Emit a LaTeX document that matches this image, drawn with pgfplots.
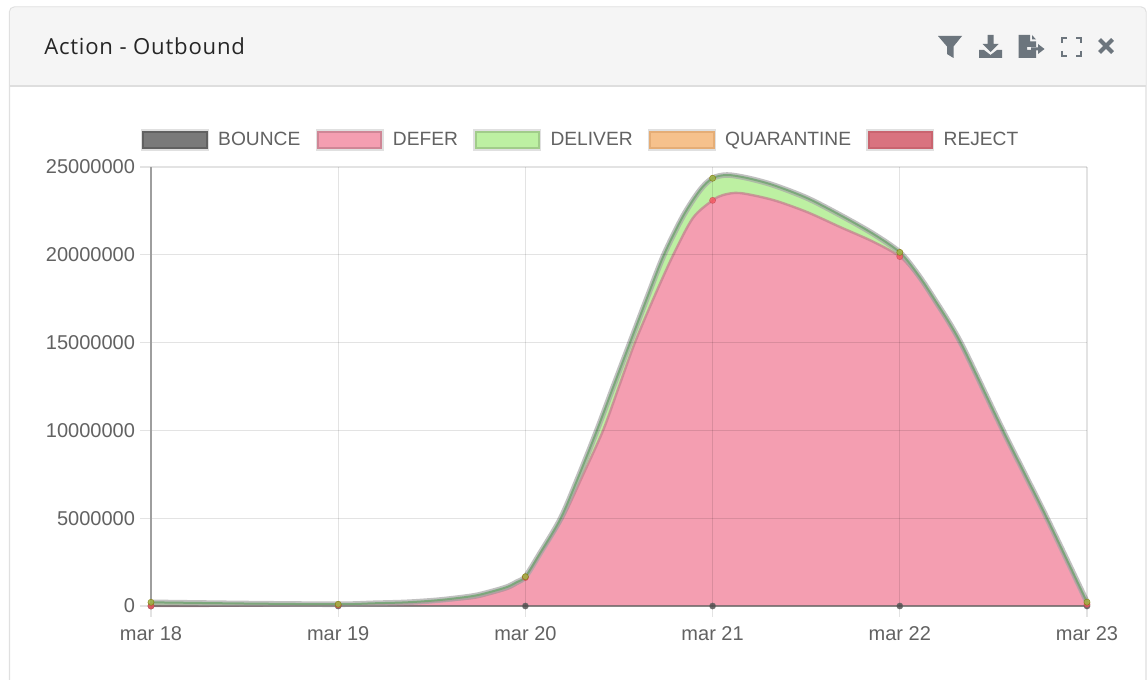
\documentclass[border=0pt]{standalone}
\usepackage{pgfplots}
\usepackage{fontspec}
\pgfplotsset{compat=1.18}
\setmainfont{Liberation Sans}
\newfontfamily\titlefont[LetterSpace=3.5]{Open Sans}
\definecolor{txt}{HTML}{626262}
\definecolor{icon}{HTML}{6C757D}
\definecolor{pinkf}{HTML}{F49EB1}
\definecolor{greenf}{HTML}{BDF0A2}
\definecolor{quarf}{HTML}{F6C18C}
\definecolor{quard}{HTML}{E5AD76}
\definecolor{rejf}{HTML}{D9737F}
\definecolor{rejd}{HTML}{C9646F}
% values at the six dates (stacked totals)
\pgfplotstableread{
x bounce defer top
0 0 0 210000
1 0 50000 100000
2 0 1620000 1670000
3 0 23100000 24360000
4 0 19900000 20140000
5 0 100000 220000
}\daily
% outline of the top of the stack
\pgfplotstableread{
x y
0 210000
0.502 142000
1 100000
1.186 153800
1.368 210700
1.544 341700
1.720 569500
1.811 797000
1.902 1082000
1.955 1367000
2 1670000
2.078 3000000
2.189 5000000
2.285 7400000
2.382 10000000
2.470 12500000
2.559 15000000
2.650 17550000
2.740 20000000
2.842 22200000
2.933 23690000
3 24360000
3.077 24545000
3.184 24374000
3.323 23975000
3.504 23235000
3.681 22265000
3.857 21200000
4 20140000
4.090 18980000
4.177 17600000
4.325 15000000
4.551 10000000
4.786 5000000
5 220000
}\topline
% outline of DEFER
\pgfplotstableread{
x y
0 0
1 50000
1.368 160000
1.544 285000
1.720 455000
1.811 683000
1.902 968000
1.955 1253000
2 1620000
2.078 2950000
2.199 5000000
2.307 7450000
2.415 10000000
2.500 12500000
2.585 15000000
2.690 17650000
2.790 20000000
2.895 22100000
3 23100000
3.056 23405000
3.146 23519000
3.323 23121000
3.504 22437000
3.681 21583000
3.857 20750000
4 19900000
4.090 18850000
4.177 17480000
4.325 14880000
4.551 9900000
4.786 4950000
5 100000
}\deferline
\newcommand{\swatch}[2]{\draw[black!12,line width=3.4pt] (0pt,-6.2pt) rectangle (47.5pt,6.2pt);
  \draw[fill=#1,draw=#2,line width=1.4pt] (0pt,-6.2pt) rectangle (47.5pt,6.2pt);}
\begin{document}
\begin{tikzpicture}[x=0.75pt,y=0.75pt]
\path[use as bounding box] (0,0) rectangle (1148,679);
\fill[white] (0,0) rectangle (1148,679);
% card
\draw[black!12,line width=1pt,fill=white] (9.5,-5) -- (9.5,667) arc[start angle=180,end angle=90,radius=5] -- (1141,672) arc[start angle=90,end angle=0,radius=5] -- (1146,-5);
\fill[black!4] (10,593) -- (10,667) arc[start angle=180,end angle=90,radius=4.5] -- (1141,671.5) arc[start angle=90,end angle=0,radius=4.5] -- (1145.5,593) -- cycle;
\draw[black!13,line width=1pt] (10,593) -- (1146,593);
\node[anchor=west,inner sep=0pt,text=black!85] at (44,633) {\titlefont\fontsize{16.6pt}{19pt}\selectfont Action - Outbound};
% icons
\begin{scope}[shift={(0,679)},yscale=-1,fill=icon]
\fill (938,36) -- (962,36) -- (953.5,46.5) -- (953.5,58) -- (947,54) -- (947,46.5) -- cycle;
\fill (987.5,35) -- (993.5,35) -- (993.5,44) -- (998.5,44) -- (990.5,52) -- (982.5,44) -- (987.5,44) -- cycle;
\fill (979,50) -- (984,50) -- (990.5,55) -- (997,50) -- (1002,50) -- (1002,58) -- (979,58) -- cycle;
\fill (1018.5,35) -- (1030,35) -- (1030,41.5) -- (1036,41.5) -- (1036,47) -- (1027,47) -- (1027,50) -- (1036,50) -- (1036,58) -- (1018.5,58) -- cycle;
\fill (1032,35) -- (1036,39.5) -- (1032,39.5) -- cycle;
\fill (1031,47.5) -- (1038,47.5) -- (1038,44) -- (1044.5,49) -- (1038,54) -- (1038,50.5) -- (1031,50.5) -- cycle;
\draw[icon,line width=1.9pt] (1062,43) -- (1062,38) -- (1067,38);
\draw[icon,line width=1.9pt] (1076,38) -- (1081,38) -- (1081,43);
\draw[icon,line width=1.9pt] (1062,51) -- (1062,56) -- (1067,56);
\draw[icon,line width=1.9pt] (1076,56) -- (1081,56) -- (1081,51);
\draw[icon,line width=3pt] (1099.5,39.5) -- (1112.5,52.5);
\draw[icon,line width=3pt] (1112.5,39.5) -- (1099.5,52.5);
\end{scope}
\begin{axis}[
  at={(113.25pt,54.75pt)},anchor=south west,scale only axis,
  width=702pt,height=329.25pt,
  xmin=0,xmax=5,ymin=0,ymax=25000000,
  xtick={0,1,2,3,4,5},
  xticklabels={mar 18,mar 19,mar 20,mar 21,mar 22,mar 23},
  ytick={0,5000000,10000000,15000000,20000000,25000000},
  scaled y ticks=false,
  yticklabel style={/pgf/number format/fixed,/pgf/number format/1000 sep={},/pgf/number format/assume math mode=true},
  /pgf/number format/assume math mode=true,
  tick label style={font=\fontsize{15pt}{17pt}\selectfont,text=txt},
  grid=major,
  major grid style={black,line width=0.95pt,opacity=0.11},
  axis on top,
  axis x line*=bottom,axis y line*=left,
  x axis line style={draw=none,-},
  y axis line style={black!38,line width=0.9pt,-},
  tick align=outside,
  major tick length=8pt,
  tick style={black,line width=0.95pt,opacity=0.11},
  xticklabel style={yshift=-3.5pt},
  yticklabel style={xshift=-0.5pt},
  clip=false,
  legend columns=5,
  legend style={at={(axis description cs:0.458,1.0615)},anchor=center,draw=none,fill=none,inner sep=0pt,
    font=\fontsize{14.4pt}{17pt}\selectfont,text=txt,
    nodes={inner sep=0pt},
    /tikz/every even column/.style={column sep=11.5pt},
    /tikz/every odd column/.style={column sep=7pt}},
]
\addlegendimage{legend image code/.code={\swatch{black!52}{black!62}}}
\addlegendentry{BOUNCE}
\addlegendimage{legend image code/.code={\swatch{pinkf}{pinkf!85!black}}}
\addlegendentry{DEFER}
\addlegendimage{legend image code/.code={\swatch{greenf}{greenf!85!black}}}
\addlegendentry{DELIVER}
\addlegendimage{legend image code/.code={\swatch{quarf}{quard}}}
\addlegendentry{QUARANTINE}
\addlegendimage{legend image code/.code={\swatch{rejf}{rejd}}}
\addlegendentry{REJECT}
% fills
\addplot[forget plot,smooth,tension=0.5,draw=none,fill=greenf] table[x=x,y=y]{\topline} \closedcycle;
\addplot[forget plot,smooth,tension=0.5,draw=none,fill=pinkf] table[x=x,y=y]{\deferline} \closedcycle;
% lines
\addplot[forget plot,smooth,tension=0.5,color=pinkf!80!black,line width=1.8pt,opacity=.7] table[x=x,y=y]{\deferline};
\addplot[forget plot,color=black!55,line width=2.2pt,opacity=.7] table[x=x,y=bounce]{\daily};
\addplot[forget plot,smooth,tension=0.5,color=black!35,line width=4.2pt,opacity=.7] table[x=x,y=y]{\topline};
\addplot[forget plot,smooth,tension=0.5,color=green!35!black!55,line width=1.5pt,opacity=.85] table[x=x,y=y]{\topline};
% marks
\addplot[forget plot,only marks,mark=*,mark size=2.3pt,mark options={draw=black!60,fill=black!70,opacity=.8}] table[x=x,y=bounce]{\daily};
\addplot[forget plot,only marks,mark=*,mark size=2.3pt,mark options={draw=red!60!black!50!pinkf,fill=red!45!pinkf,opacity=.8}] table[x=x,y=defer]{\daily};
\addplot[forget plot,only marks,mark=*,mark size=2.3pt,mark options={draw=olive!90!black,fill=olive!70!green!70!white,opacity=.85}] table[x=x,y=top]{\daily};
\end{axis}
\end{tikzpicture}
\end{document}
